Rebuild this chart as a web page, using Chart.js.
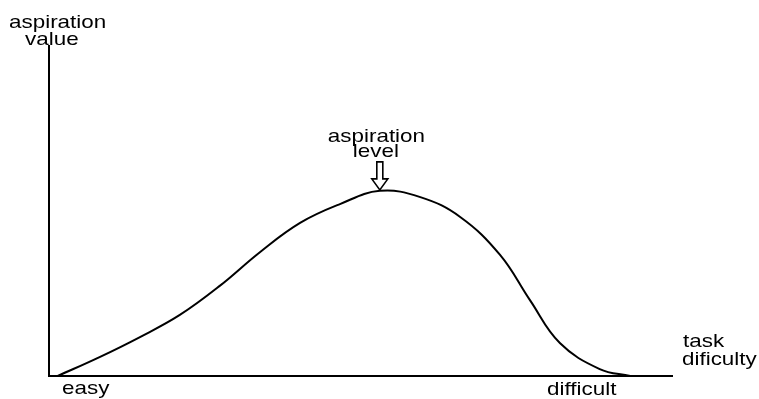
<!DOCTYPE html>
<html>
<head>
<meta charset="utf-8">
<script src="https://cdn.jsdelivr.net/npm/chart.js@4/dist/chart.umd.min.js"></script>
<style>
  html, body { margin: 0; padding: 0; background: #fff; }
  #wrap { width: 759px; height: 399px; }
</style>
</head>
<body>
<div id="wrap"><canvas id="chart"></canvas></div>
<script>
// task difficulty (0 = easy, 100 = difficult)
const difficulty = [1.4, 8.2, 14.6, 21.0, 27.4, 33.9, 40.3, 46.7, 53.1, 59.6, 66.0, 72.4, 77.2, 82.0, 88.4, 93.3];
// aspiration value
const aspiration = [0, 5.8, 11.8, 18.5, 27.3, 37.6, 46.4, 52.1, 56.1, 54.2, 48.2, 36.7, 23.0, 10.0, 2.1, 0];
const peakIndex = 8;

const FONT = '19px "Liberation Sans", Arial, sans-serif';

function stretchedText(ctx, str, x, y) {
    ctx.save();
    ctx.translate(x, y);
    ctx.scale(1.18, 1);
    ctx.fillText(str, 0, 0);
    ctx.restore();
}

const labelsPlugin = {
    id: "labels",
    afterDraw(chart) {
        const ctx = chart.ctx;
        const area = chart.chartArea;
        const xs = chart.scales.x;
        const ys = chart.scales.y;
        ctx.save();
        ctx.fillStyle = "#000";
        ctx.font = FONT;
        ctx.textBaseline = "alphabetic";

        stretchedText(ctx, "aspiration", 9, 28);
        stretchedText(ctx, "value", 25, 45);

        stretchedText(ctx, "task", area.right + 11, 347);
        stretchedText(ctx, "dificulty", area.right + 10, 365);

        stretchedText(ctx, "easy", 62, 394);
        stretchedText(ctx, "difficult", 547, 395);

        // aspiration level + hollow arrow
        const px = xs.getPixelForValue(difficulty[peakIndex]);
        const py = ys.getPixelForValue(aspiration[peakIndex]);
        stretchedText(ctx, "aspiration", px - 52, py - 49);
        stretchedText(ctx, "level", px - 27, py - 34);

        ctx.strokeStyle = "#000";
        ctx.lineWidth = 1.6;
        ctx.beginPath();
        ctx.moveTo(px - 3, py - 29);
        ctx.lineTo(px - 3, py - 12);
        ctx.lineTo(px - 8, py - 12);
        ctx.lineTo(px, py - 1);
        ctx.lineTo(px + 8, py - 12);
        ctx.lineTo(px + 3, py - 12);
        ctx.lineTo(px + 3, py - 29);
        ctx.closePath();
        ctx.stroke();
        ctx.restore();
    }
};

new Chart(document.getElementById("chart"), {
    type: "line",
    data: {
        datasets: [{
            data: difficulty.map((d, i) => ({ x: d, y: aspiration[i] })),
            borderColor: "#000",
            borderWidth: 2,
            pointRadius: 0,
            fill: false,
            tension: 0.4
        }]
    },
    options: {
        responsive: true,
        maintainAspectRatio: false,
        animation: false,
        layout: { padding: { left: 49, right: 87, top: 46, bottom: 23 } },
        plugins: { legend: { display: false }, tooltip: { enabled: false } },
        scales: {
            x: {
                type: "linear",
                min: 0,
                max: 100,
                grid: { display: false, drawTicks: false },
                ticks: { display: false },
                border: { display: true, color: "#000", width: 2 }
            },
            y: {
                type: "linear",
                min: 0,
                max: 100,
                grid: { display: false, drawTicks: false },
                ticks: { display: false },
                border: { display: true, color: "#000", width: 2 }
            }
        }
    },
    plugins: [labelsPlugin]
});
</script>
</body>
</html>
